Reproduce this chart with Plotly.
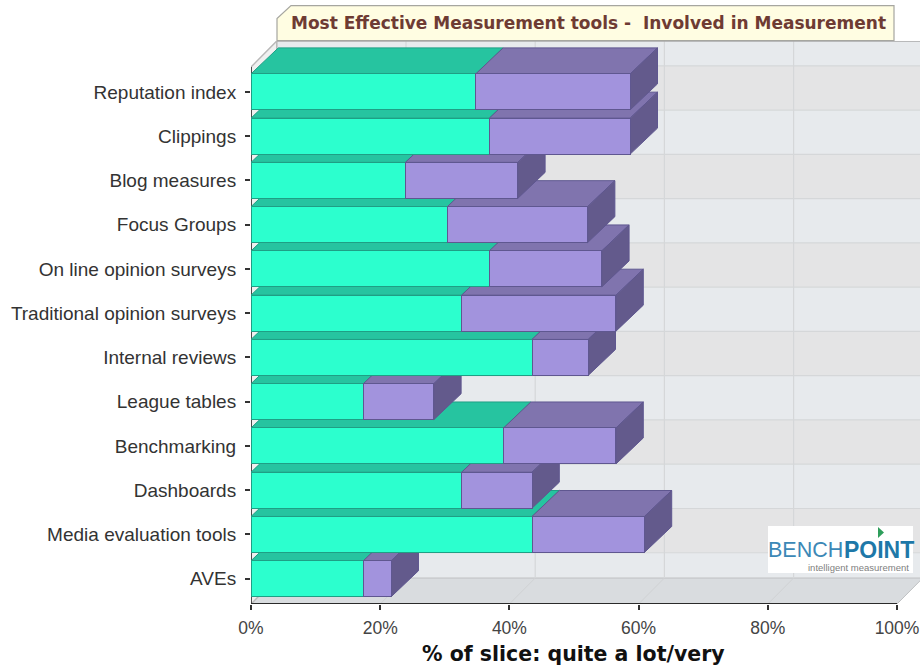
import plotly.graph_objects as go

# Survey results, in percent of the respondent slice
tools = ["Reputation index", "Clippings", "Blog measures", "Focus Groups",
         "On line opinion surveys", "Traditional opinion surveys", "Internal reviews",
         "League tables", "Benchmarking", "Dashboards", "Media evaluation tools", "AVEs"]
first_segment = [34.8, 36.9, 23.9, 30.4, 36.9, 32.6, 43.5, 17.4, 39.1, 32.6, 43.5, 17.4]
second_segment = [23.9, 21.8, 17.4, 21.7, 17.4, 23.9, 8.7, 10.9, 17.4, 10.9, 17.4, 4.3]
percent_ticks = [0, 20, 40, 60, 80, 100]
percent_labels = ["0%", "20%", "40%", "60%", "80%", "100%"]

# Canvas geometry
WIDTH, HEIGHT = 920, 665
LEFT, RIGHT_PX, TOP, BOTTOM_PX = 251, 920, 40.5, 604
PX_PER_PCT = 6.46
ROW_PX = 44.3
FIRST_ROW_PX = 91.4
BAR_PX = 36

# Axis ranges follow from the geometry, with room for the extruded depth
x_range = [0, (RIGHT_PX - LEFT) / PX_PER_PCT]
y_range = [(BOTTOM_PX - FIRST_ROW_PX) / ROW_PX, (TOP - FIRST_ROW_PX) / ROW_PX]
bar_h = BAR_PX / ROW_PX
bar_dx, bar_dy = 27.3 / PX_PER_PCT, 26 / ROW_PX
wall_dx, wall_dy = 25.8 / PX_PER_PCT, 26 / ROW_PX

# Colours
TEAL_FRONT, TEAL_TOP, TEAL_EDGE = "#2CFFCE", "#26C4A0", "#1F9F85"
PURPLE_FRONT, PURPLE_TOP, PURPLE_SIDE, PURPLE_EDGE = "#A293DD", "#8074AE", "#635A8C", "#5F5790"
WALL_BLUE, WALL_GREY, GRID, FLOOR = "#E7EAED", "#E4E4E5", "#D5D7D9", "#D9DCDF"


def paper_x(px):
    return (px - LEFT) / (RIGHT_PX - LEFT)


def paper_y(py):
    return (BOTTOM_PX - py) / (BOTTOM_PX - TOP)


def polygon(xs, ys, fill, edge):
    return go.Scatter(x=xs + xs[:1], y=ys + ys[:1], mode="lines", fill="toself",
                      fillcolor=fill, line=dict(color=edge, width=1),
                      hoverinfo="skip", showlegend=False, xaxis="x", yaxis="y")


fig = go.Figure()

# Extruded top and side faces; lower rows first so upper rows sit in front of them
for row in range(len(tools) - 1, -1, -1):
    split = first_segment[row]
    end = split + second_segment[row]
    front_y = row - bar_h / 2
    back_y = front_y - bar_dy
    low_y = row + bar_h / 2
    fig.add_trace(polygon([0, split, split + bar_dx, bar_dx],
                          [front_y, front_y, back_y, back_y], TEAL_TOP, TEAL_EDGE))
    fig.add_trace(polygon([split, end, end + bar_dx, split + bar_dx],
                          [front_y, front_y, back_y, back_y], PURPLE_TOP, PURPLE_EDGE))
    fig.add_trace(polygon([end, end + bar_dx, end + bar_dx, end],
                          [front_y, back_y, low_y - bar_dy, low_y], PURPLE_SIDE, PURPLE_EDGE))

# Front faces live on an overlaying subplot, which paints above every extruded face
fig.add_trace(go.Bar(y=tools, x=first_segment, orientation="h", width=bar_h, name="First segment",
                     marker=dict(color=TEAL_FRONT, line=dict(color=TEAL_EDGE, width=1)),
                     xaxis="x2", yaxis="y2", showlegend=False))
fig.add_trace(go.Bar(y=tools, x=second_segment, orientation="h", width=bar_h, name="Second segment",
                     marker=dict(color=PURPLE_FRONT, line=dict(color=PURPLE_EDGE, width=1)),
                     xaxis="x2", yaxis="y2", showlegend=False))

shapes = []
wall_bottom = y_range[0] - wall_dy

# Back wall: alternating stripes split at the projected row lines
edges = [y_range[1]] + [r - wall_dy for r in range(len(tools))] + [wall_bottom]
for i in range(len(edges) - 1):
    color = WALL_GREY if i % 2 == 1 and i < len(edges) - 2 else WALL_BLUE
    shapes.append(dict(type="rect", xref="x", yref="y", layer="below", x0=wall_dx, x1=x_range[1],
                       y0=edges[i], y1=edges[i + 1], fillcolor=color, line_width=0))
for r in range(len(tools)):
    shapes.append(dict(type="line", xref="x", yref="y", layer="below", x0=wall_dx, x1=x_range[1],
                       y0=r - wall_dy, y1=r - wall_dy, line=dict(color=GRID, width=1.2)))

# Floor plane
shapes.append(dict(type="path", xref="x", yref="y", layer="below", fillcolor=FLOOR, line=dict(color="#BEC0C2", width=1),
                   path=f"M 0 {y_range[0]} L 100 {y_range[0]} L {100 + wall_dx} {wall_bottom} L {wall_dx} {wall_bottom} Z"))

# Vertical grid lines on the wall and their continuation across the floor
for tick in percent_ticks[1:-1]:
    shapes.append(dict(type="line", xref="x", yref="y", layer="below", x0=tick + wall_dx, x1=tick + wall_dx,
                       y0=y_range[1], y1=wall_bottom, line=dict(color=GRID, width=1.2)))
    shapes.append(dict(type="line", xref="x", yref="y", layer="below", x0=tick, x1=tick + wall_dx,
                       y0=y_range[0], y1=wall_bottom, line=dict(color="#D0D2D4", width=1)))

# Side wall on the left, top edge of the back wall, and the heavy axis lines
shapes.append(dict(type="path", xref="x", yref="y", layer="below", fillcolor="#F0F0F0", line=dict(color="#B8B8B8", width=1.5),
                   path=f"M 0 {y_range[0]} L {wall_dx} {wall_bottom} L {wall_dx} {y_range[1]} L 0 {y_range[1] + wall_dy} Z"))
shapes.append(dict(type="line", xref="x", yref="y", layer="below", x0=wall_dx, x1=x_range[1],
                   y0=y_range[1], y1=y_range[1], line=dict(color="#A8A8A8", width=1.5)))
shapes.append(dict(type="line", xref="x", yref="y", layer="below", x0=0, x1=0,
                   y0=y_range[1] + wall_dy, y1=y_range[0], line=dict(color="#222222", width=1.5)))
shapes.append(dict(type="line", xref="x", yref="y", layer="above", x0=0, x1=100,
                   y0=y_range[0], y1=y_range[0], line=dict(color="#2A2A2A", width=2)))

# Title plate with a chamfered corner
shapes.append(dict(type="path", xref="paper", yref="paper", layer="above", fillcolor="#FFFDE2",
                   line=dict(color="#A6A6A0", width=1.2),
                   path=(f"M {paper_x(277)} {paper_y(40)} L {paper_x(277)} {paper_y(18)} "
                         f"L {paper_x(291)} {paper_y(5)} L {paper_x(894)} {paper_y(5)} "
                         f"L {paper_x(894)} {paper_y(40)} Z")))

# Logo plate and its pointer mark
shapes.append(dict(type="rect", xref="paper", yref="paper", layer="above", x0=paper_x(768), x1=paper_x(913),
                   y0=paper_y(573), y1=paper_y(526), fillcolor="#FFFFFF", line_width=0))
shapes.append(dict(type="path", xref="paper", yref="paper", layer="above", fillcolor="#2E9E5B", line_width=0,
                   path=(f"M {paper_x(878)} {paper_y(527)} L {paper_x(884)} {paper_y(532.5)} "
                         f"L {paper_x(878)} {paper_y(538)} Z")))

annotations = [
    dict(text="Most Effective Measurement tools -  Involved in Measurement", xref="paper", yref="paper",
         x=paper_x(289), y=paper_y(22), xanchor="left", yanchor="middle", showarrow=False,
         font=dict(family="DejaVu Sans", size=17, color="#6E3B33", weight="bold")),
    dict(text="% of slice: quite a lot/very", xref="paper", yref="paper",
         x=paper_x(573.5), y=paper_y(654), xanchor="center", yanchor="middle", showarrow=False,
         font=dict(family="DejaVu Sans", size=20.5, color="#111111", weight="bold")),
    dict(text="BENCH", xref="paper", yref="paper", x=paper_x(844.5), y=paper_y(550), xanchor="right", yanchor="middle",
         showarrow=False, font=dict(family="Liberation Sans", size=21.5, color="#3C88B6")),
    dict(text="POINT", xref="paper", yref="paper", x=paper_x(841.5), y=paper_y(550), xanchor="left", yanchor="middle",
         showarrow=False, font=dict(family="Liberation Sans", size=23, color="#1E78A8", weight="bold")),
    dict(text="intelligent measurement", xref="paper", yref="paper", x=paper_x(911), y=paper_y(567.5), xanchor="right",
         yanchor="middle", showarrow=False, font=dict(family="Liberation Sans", size=9.5, color="#808080")),
]

fig.update_layout(
    width=WIDTH, height=HEIGHT,
    margin=dict(l=LEFT, r=WIDTH - RIGHT_PX, t=TOP, b=HEIGHT - BOTTOM_PX, pad=0),
    paper_bgcolor="#FFFFFF", plot_bgcolor="#FFFFFF",
    barmode="stack", showlegend=False, shapes=shapes, annotations=annotations,
    font=dict(family="Liberation Sans", color="#3A3A3A"),
    xaxis=dict(range=x_range, tickmode="array", tickvals=percent_ticks, ticktext=percent_labels,
               ticks="outside", ticklen=5, tickwidth=1.5, tickcolor="#333333", showgrid=False, zeroline=False,
               showline=False, tickfont=dict(size=17.5, color="#444444"), ticklabelstandoff=3),
    yaxis=dict(range=y_range, visible=False),
    xaxis2=dict(range=x_range, overlaying="x", visible=False),
    yaxis2=dict(range=y_range, overlaying="y", type="category", categoryorder="array", categoryarray=tools,
                anchor="x2", side="left", ticks="outside", ticklen=5, tickwidth=1.5, tickcolor="#333333",
                showgrid=False, zeroline=False, showline=False, tickfont=dict(size=19, color="#333333"),
                ticklabelstandoff=5),
)

fig.write_html("out.html")
